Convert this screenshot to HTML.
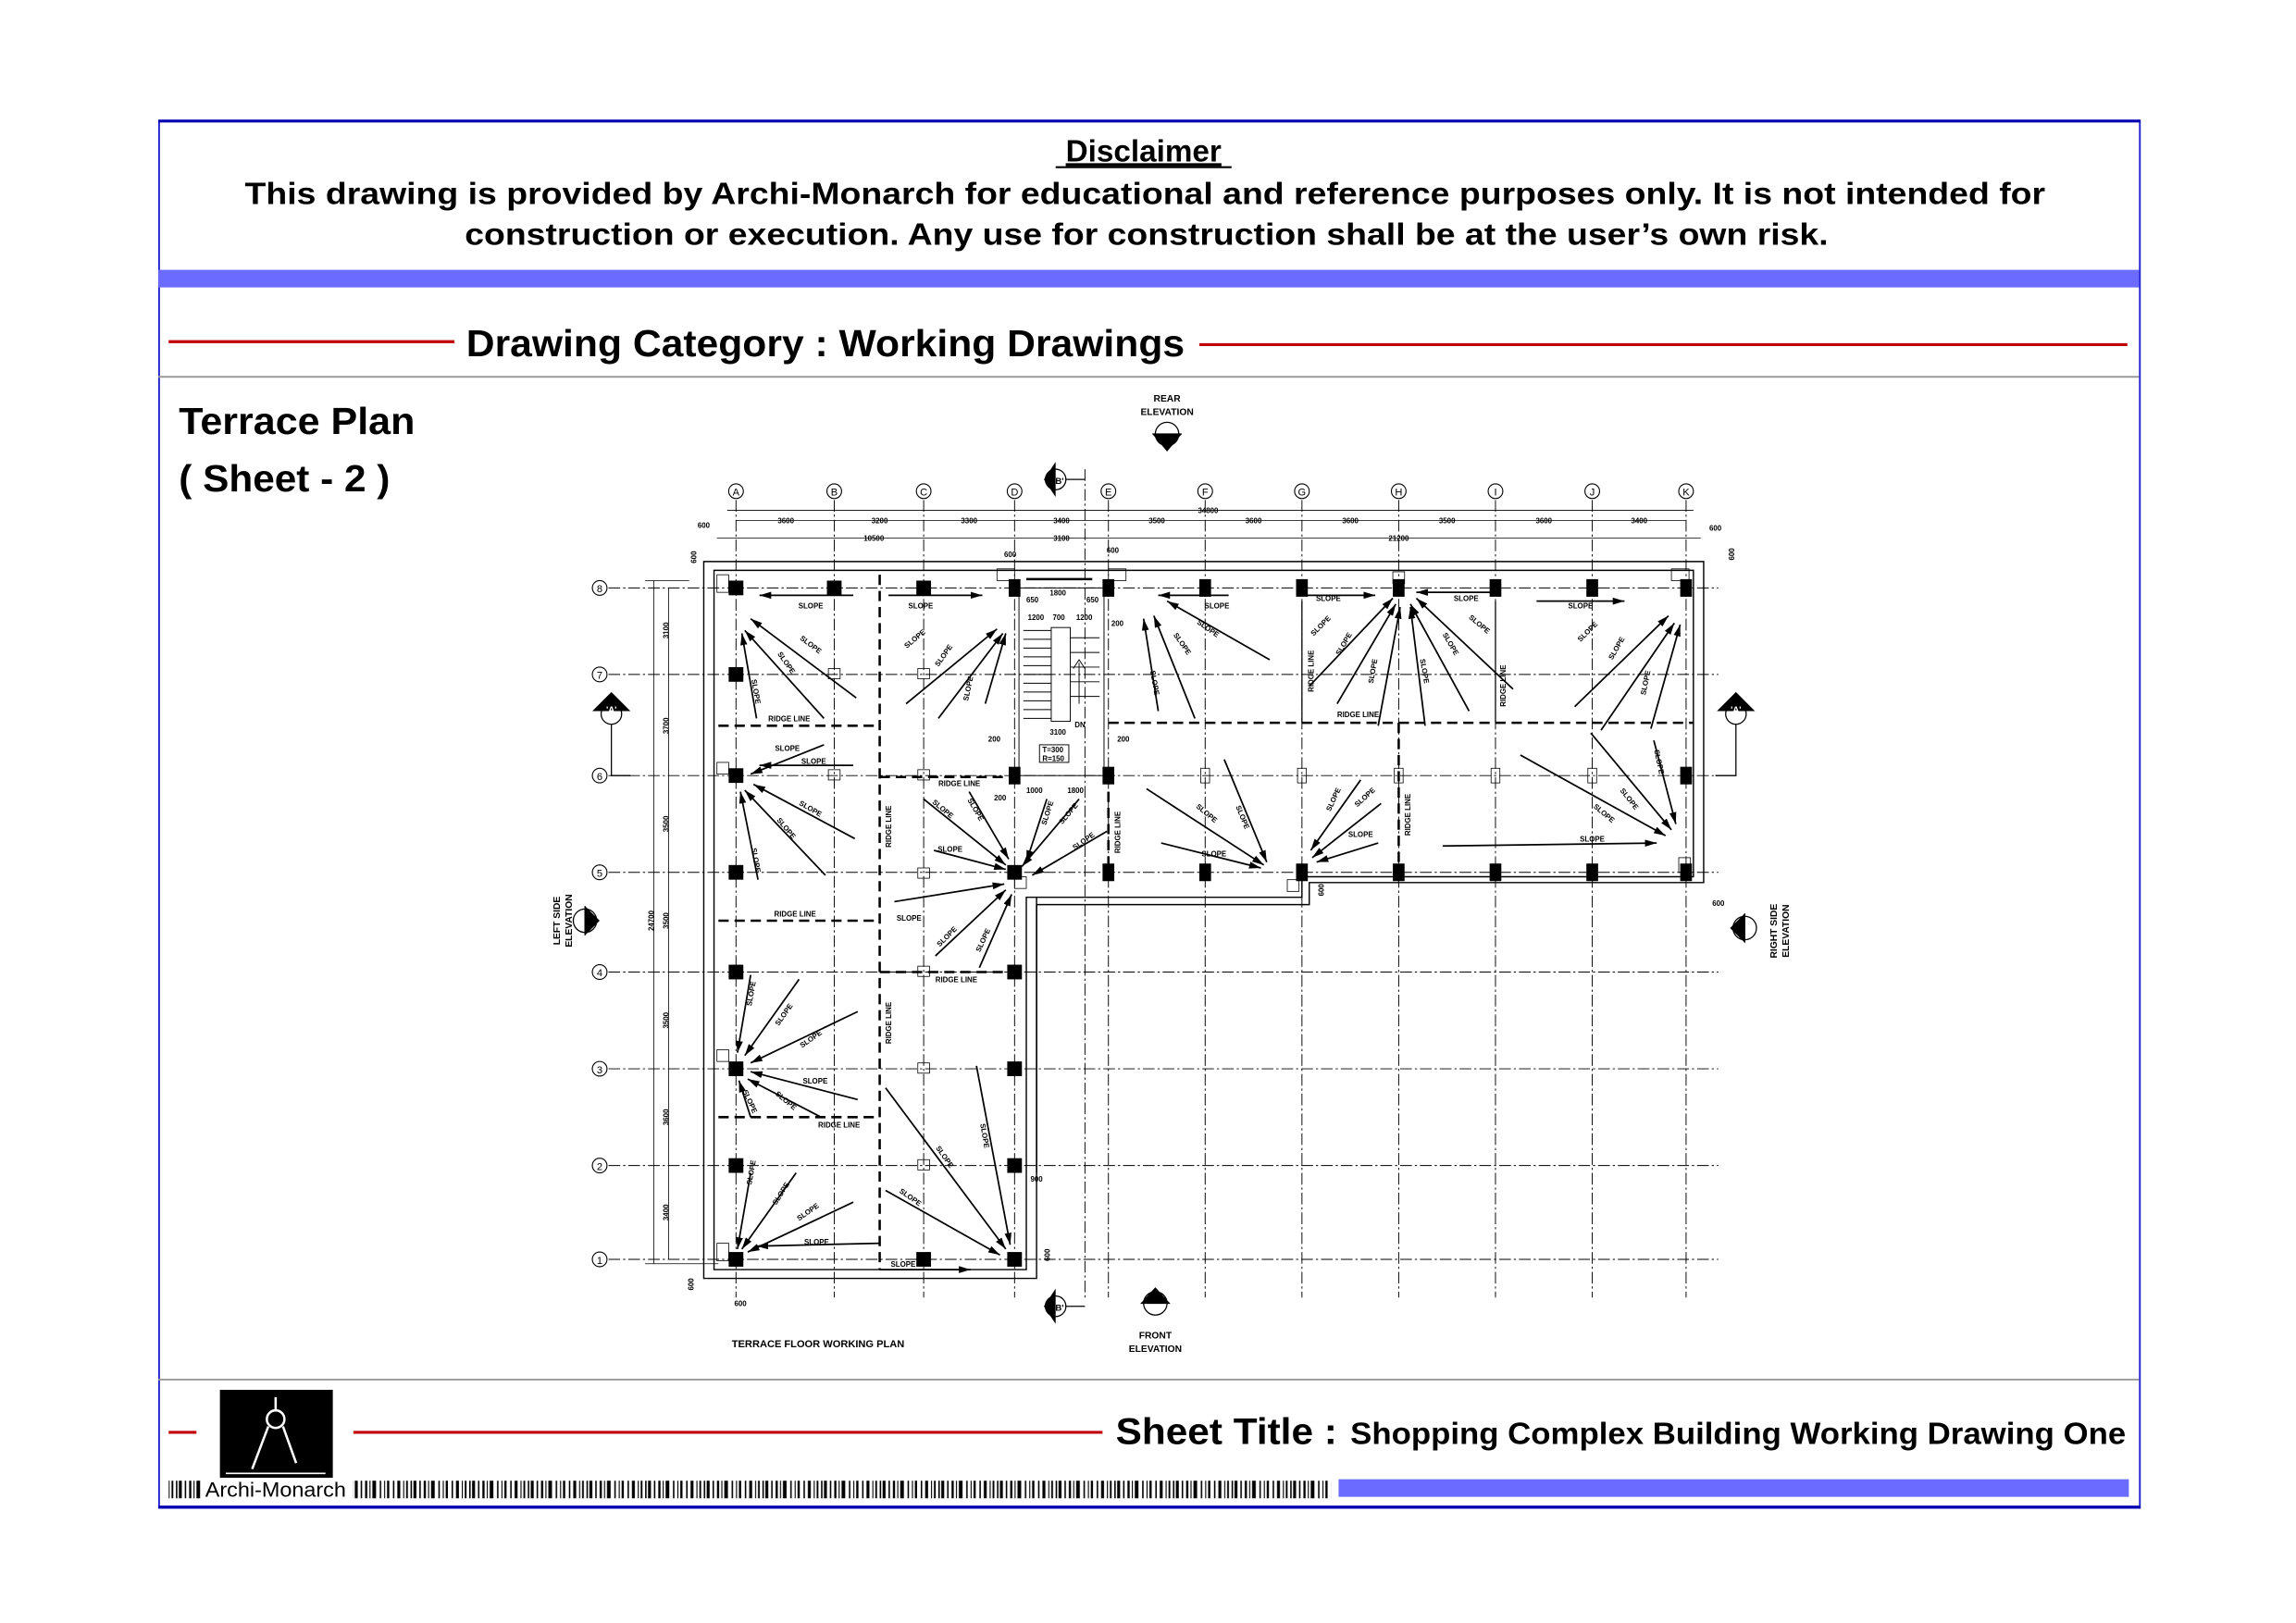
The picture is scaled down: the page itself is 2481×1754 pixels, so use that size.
<!DOCTYPE html>
<html><head><meta charset="utf-8"><style>
html,body{margin:0;padding:0;background:#fff}
svg{display:block}
</style></head><body>
<svg width="2481" height="1754" viewBox="0 0 1566 1107" xmlns="http://www.w3.org/2000/svg" font-family="Liberation Sans, Arial, sans-serif">
<defs>
<marker id="ah" viewBox="0 0 10 6" refX="10" refY="3" markerWidth="8" markerHeight="5" markerUnits="userSpaceOnUse" orient="auto"><path d="M0,0 L10,3 L0,6 Z" fill="#000"/></marker>
<pattern id="bc" width="40" height="12" patternUnits="userSpaceOnUse">
<rect x="0" width="1" height="12"/><rect x="2" width="2" height="12"/><rect x="6" width="1" height="12"/><rect x="9" width="1.5" height="12"/><rect x="12" width="0.7" height="12"/><rect x="14" width="2.5" height="12"/><rect x="19" width="1" height="12"/><rect x="22" width="0.7" height="12"/><rect x="24" width="1.5" height="12"/><rect x="28" width="1" height="12"/><rect x="31" width="2" height="12"/><rect x="35" width="0.7" height="12"/><rect x="37" width="1.2" height="12"/>
</pattern>
</defs>
<rect width="1566" height="1107" fill="#fff"/>
<!-- frame -->
<rect x="108.5" y="82.5" width="1351" height="946" fill="none" stroke="#2020d0" stroke-width="1.2"/>
<line x1="108" y1="82.5" x2="1460" y2="82.5" stroke="#0000b0" stroke-width="2"/>
<line x1="108" y1="1028" x2="1460" y2="1028" stroke="#0000b0" stroke-width="2"/>
<text x="780" y="110" font-size="21" font-weight="bold" text-anchor="middle" text-decoration="underline">Disclaimer</text>
<line x1="720" y1="114" x2="840" y2="114" stroke="#000" stroke-width="1.3"/>
<text x="781" y="139" font-size="21" font-weight="bold" text-anchor="middle" textLength="1228" lengthAdjust="spacingAndGlyphs">This drawing is provided by Archi-Monarch for educational and reference purposes only. It is not intended for</text>
<text x="782" y="167" font-size="21" font-weight="bold" text-anchor="middle" textLength="930" lengthAdjust="spacingAndGlyphs">construction or execution. Any use for construction shall be at the user’s own risk.</text>
<rect x="108" y="184" width="1351" height="12" fill="#6b6bff"/>
<line x1="115" y1="233" x2="310" y2="233" stroke="#c00000" stroke-width="2"/>
<line x1="818" y1="235" x2="1451" y2="235" stroke="#c00000" stroke-width="2"/>
<text x="318" y="243" font-size="26" font-weight="bold" textLength="490" lengthAdjust="spacingAndGlyphs">Drawing Category : Working Drawings</text>
<line x1="108" y1="257" x2="1459" y2="257" stroke="#999" stroke-width="1.2"/>
<text x="122" y="296" font-size="26" font-weight="bold" textLength="161" lengthAdjust="spacingAndGlyphs">Terrace Plan</text>
<text x="122" y="335" font-size="26" font-weight="bold" textLength="144" lengthAdjust="spacingAndGlyphs">( Sheet - 2 )</text>
<line x1="108" y1="941" x2="1459" y2="941" stroke="#999" stroke-width="1.2"/>
<!-- title block -->
<line x1="115" y1="977" x2="134" y2="977" stroke="#c00000" stroke-width="2"/>
<line x1="241" y1="977" x2="752" y2="977" stroke="#c00000" stroke-width="2"/>
<rect x="150" y="948" width="77" height="60" fill="#000"/>
<g stroke="#fff" fill="none" stroke-width="1.6">
<line x1="188" y1="953" x2="188" y2="962"/><circle cx="188" cy="968" r="6"/>
<line x1="183" y1="973" x2="172" y2="1002"/><line x1="193" y1="973" x2="202" y2="998"/>
<line x1="154" y1="1005" x2="222" y2="1005" stroke-width="1"/>
</g>
<text x="761" y="985" font-size="25" font-weight="bold" textLength="151" lengthAdjust="spacingAndGlyphs">Sheet Title :</text>
<text x="921" y="985" font-size="21" font-weight="bold" textLength="529" lengthAdjust="spacingAndGlyphs">Shopping Complex Building Working Drawing One</text>
<rect x="115" y="1010" width="22" height="12" fill="url(#bc)"/>
<text x="140" y="1021" font-size="14" textLength="96" lengthAdjust="spacingAndGlyphs">Archi-Monarch</text>
<rect x="241" y="1010" width="667" height="12" fill="url(#bc)"/>
<rect x="913" y="1009" width="539" height="12" fill="#6b6bff"/>

<!-- ===== PLAN ===== -->
<g stroke="#000" stroke-width="0.6" stroke-dasharray="8 2 1.5 2" fill="none">
<line x1="502" y1="341" x2="502" y2="885"/><line x1="569" y1="341" x2="569" y2="885"/><line x1="630" y1="341" x2="630" y2="885"/><line x1="692" y1="341" x2="692" y2="885"/>
<line x1="756" y1="341" x2="756" y2="885"/><line x1="822" y1="341" x2="822" y2="885"/><line x1="888" y1="341" x2="888" y2="885"/><line x1="954" y1="341" x2="954" y2="885"/>
<line x1="1020" y1="341" x2="1020" y2="885"/><line x1="1086" y1="341" x2="1086" y2="885"/><line x1="1150" y1="341" x2="1150" y2="885"/>
<line x1="415" y1="401" x2="1172" y2="401"/><line x1="415" y1="460" x2="1172" y2="460"/><line x1="415" y1="529" x2="1172" y2="529"/><line x1="415" y1="595" x2="1172" y2="595"/>
<line x1="415" y1="663" x2="1172" y2="663"/><line x1="415" y1="729" x2="1172" y2="729"/><line x1="415" y1="795" x2="1172" y2="795"/><line x1="415" y1="859" x2="1172" y2="859"/>
<line x1="740" y1="320" x2="740" y2="885"/>
</g>
<!-- bubbles -->
<g font-size="7" text-anchor="middle" fill="none" stroke="#000" stroke-width="0.7">
<circle cx="502" cy="335" r="5"/><circle cx="569" cy="335" r="5"/><circle cx="630" cy="335" r="5"/><circle cx="692" cy="335" r="5"/><circle cx="756" cy="335" r="5"/><circle cx="822" cy="335" r="5"/><circle cx="888" cy="335" r="5"/><circle cx="954" cy="335" r="5"/><circle cx="1020" cy="335" r="5"/><circle cx="1086" cy="335" r="5"/><circle cx="1150" cy="335" r="5"/>
<circle cx="409" cy="401" r="5"/><circle cx="409" cy="460" r="5"/><circle cx="409" cy="529" r="5"/><circle cx="409" cy="595" r="5"/><circle cx="409" cy="663" r="5"/><circle cx="409" cy="729" r="5"/><circle cx="409" cy="795" r="5"/><circle cx="409" cy="859" r="5"/>
</g>
<g font-size="7" text-anchor="middle" fill="#000">
<text x="502" y="338">A</text><text x="569" y="338">B</text><text x="630" y="338">C</text><text x="692" y="338">D</text><text x="756" y="338">E</text><text x="822" y="338">F</text><text x="888" y="338">G</text><text x="954" y="338">H</text><text x="1020" y="338">I</text><text x="1086" y="338">J</text><text x="1150" y="338">K</text>
<text x="409" y="404">8</text><text x="409" y="463">7</text><text x="409" y="532">6</text><text x="409" y="598">5</text><text x="409" y="666">4</text><text x="409" y="732">3</text><text x="409" y="798">2</text><text x="409" y="862">1</text>
</g>
<!-- dimensions -->
<g stroke="#000" stroke-width="0.5" fill="none">
<line x1="496" y1="348" x2="1155" y2="348"/><line x1="502" y1="355" x2="1150" y2="355"/><line x1="489" y1="367" x2="1160" y2="367"/>
<line x1="446" y1="396" x2="446" y2="862"/><line x1="456" y1="401" x2="456" y2="859"/>
<line x1="440" y1="396" x2="470" y2="396"/><line x1="440" y1="862" x2="490" y2="862"/>
</g>
<g font-size="5" font-weight="bold" text-anchor="middle" fill="#000">
<text x="824" y="350">34800</text>
<text x="536" y="357">3600</text><text x="600" y="357">3200</text><text x="661" y="357">3300</text><text x="724" y="357">3400</text><text x="789" y="357">3500</text><text x="855" y="357">3600</text><text x="921" y="357">3600</text><text x="987" y="357">3500</text><text x="1053" y="357">3600</text><text x="1118" y="357">3400</text>
<text x="596" y="369">10500</text><text x="724" y="369">3100</text><text x="954" y="369">21200</text>
<text x="480" y="360">600</text><text x="1170" y="362">600</text><text x="689" y="380">600</text><text x="759" y="377">600</text>
<g transform="rotate(-90)"><text x="-430" y="456">3100</text><text x="-495" y="456">3700</text><text x="-562" y="456">3500</text><text x="-628" y="446">24700</text><text x="-628" y="456">3500</text><text x="-696" y="456">3500</text><text x="-762" y="456">3600</text><text x="-827" y="456">3400</text>
<text x="-380" y="475">600</text><text x="-378" y="1183">600</text><text x="-876" y="473">600</text><text x="-856" y="716">600</text><text x="-607" y="903">600</text></g>
<text x="505" y="891">600</text><text x="1172" y="618">600</text><text x="707" y="806">900</text>
</g>
<!-- building outline -->
<g stroke="#000" stroke-width="0.9" fill="none">
<path d="M480,383 H1162 V602 H893 V617 H707 V872 H480 Z"/>
<path d="M487,389 H1155 V598 H888 V612 H700 V866 H487 Z"/>
<line x1="707" y1="612" x2="707" y2="800"/>
</g>
<!-- stair -->
<g stroke="#000" stroke-width="0.6" fill="none">
<rect x="695" y="401" width="58" height="128"/>
<rect x="717" y="428" width="13" height="64"/>
<line x1="698" y1="430" x2="717" y2="430"/><line x1="698" y1="436" x2="717" y2="436"/><line x1="698" y1="442" x2="717" y2="442"/><line x1="698" y1="448" x2="717" y2="448"/><line x1="698" y1="454" x2="717" y2="454"/><line x1="698" y1="460" x2="717" y2="460"/><line x1="698" y1="466" x2="717" y2="466"/><line x1="698" y1="472" x2="717" y2="472"/><line x1="698" y1="478" x2="717" y2="478"/><line x1="698" y1="484" x2="717" y2="484"/><line x1="698" y1="490" x2="717" y2="490"/>
<line x1="730" y1="435" x2="750" y2="435"/><line x1="730" y1="445" x2="750" y2="445"/><line x1="730" y1="455" x2="750" y2="455"/><line x1="730" y1="465" x2="750" y2="465"/><line x1="730" y1="475" x2="750" y2="475"/>
<line x1="736" y1="480" x2="736" y2="452"/><path d="M732,456 L736,450 L740,456"/>
<rect x="709" y="508" width="20" height="12"/>
<line x1="700" y1="395" x2="745" y2="395" stroke-width="1.6"/>
</g>
<g font-size="5" font-weight="bold" fill="#000">
<text x="716" y="406">1800</text><text x="700" y="411">650</text><text x="741" y="411">650</text><text x="701" y="423">1200</text><text x="718" y="423">700</text><text x="734" y="423">1200</text>
<text x="733" y="496">DN</text><text x="716" y="501">3100</text><text x="711" y="513">T=300</text><text x="711" y="519">R=150</text><text x="674" y="506">200</text><text x="762" y="506">200</text><text x="758" y="427">200</text><text x="678" y="546">200</text><text x="700" y="541">1000</text><text x="728" y="541">1800</text>
</g>
<!-- ridge lines -->
<g stroke="#000" stroke-width="1.6" stroke-dasharray="7 4" fill="none">
<line x1="600" y1="392" x2="600" y2="866"/>
<line x1="490" y1="495" x2="600" y2="495"/>
<line x1="600" y1="530" x2="692" y2="530"/>
<line x1="490" y1="628" x2="600" y2="628"/>
<line x1="600" y1="663" x2="692" y2="663"/>
<line x1="490" y1="762" x2="600" y2="762"/>
<line x1="756" y1="493" x2="1155" y2="493"/>
<line x1="756" y1="540" x2="756" y2="598"/>
<line x1="954" y1="493" x2="954" y2="598"/>
</g>
<g stroke="#000" stroke-width="0.8" fill="none"><line x1="888" y1="410" x2="888" y2="493"/><line x1="1020" y1="410" x2="1020" y2="493"/></g>
<g font-size="5" font-weight="bold" fill="#000">
<text x="524" y="492">RIDGE LINE</text><text x="528" y="625">RIDGE LINE</text><text x="558" y="769">RIDGE LINE</text><text x="640" y="536">RIDGE LINE</text><text x="638" y="670">RIDGE LINE</text><text x="912" y="489">RIDGE LINE</text>
<g transform="rotate(-90)"><text x="-578" y="608">RIDGE LINE</text><text x="-712" y="608">RIDGE LINE</text><text x="-582" y="764">RIDGE LINE</text><text x="-570" y="962">RIDGE LINE</text><text x="-472" y="896">RIDGE LINE</text><text x="-482" y="1027">RIDGE LINE</text></g>
</g>
<!-- columns -->
<g fill="#000">
<rect x="497" y="396" width="10" height="10"/><rect x="564" y="396" width="10" height="10"/><rect x="625" y="396" width="10" height="10"/><rect x="688" y="395" width="8" height="12"/><rect x="752" y="395" width="8" height="12"/><rect x="818" y="395" width="8" height="12"/><rect x="884" y="395" width="8" height="12"/><rect x="950" y="395" width="8" height="12"/><rect x="1016" y="395" width="8" height="12"/><rect x="1082" y="395" width="8" height="12"/><rect x="1146" y="395" width="8" height="12"/>
<rect x="497" y="455" width="10" height="10"/><rect x="497" y="524" width="10" height="10"/><rect x="688" y="523" width="8" height="12"/><rect x="752" y="523" width="8" height="12"/><rect x="1146" y="523" width="8" height="12"/>
<rect x="497" y="590" width="10" height="10"/><rect x="687" y="590" width="10" height="10"/><rect x="752" y="589" width="8" height="12"/><rect x="818" y="589" width="8" height="12"/><rect x="884" y="589" width="8" height="12"/><rect x="950" y="589" width="8" height="12"/><rect x="1016" y="589" width="8" height="12"/><rect x="1082" y="589" width="8" height="12"/><rect x="1146" y="589" width="8" height="12"/>
<rect x="497" y="658" width="10" height="10"/><rect x="687" y="658" width="10" height="10"/><rect x="497" y="724" width="10" height="10"/><rect x="687" y="724" width="10" height="10"/><rect x="497" y="790" width="10" height="10"/><rect x="687" y="790" width="10" height="10"/><rect x="497" y="854" width="10" height="10"/><rect x="625" y="854" width="10" height="10"/><rect x="687" y="854" width="10" height="10"/>
</g>
<g fill="none" stroke="#000" stroke-width="0.5">
<rect x="565" y="456" width="8" height="7"/><rect x="626" y="456" width="8" height="7"/><rect x="565" y="525" width="8" height="7"/><rect x="626" y="525" width="8" height="7"/><rect x="626" y="592" width="8" height="7"/><rect x="626" y="659" width="8" height="7"/><rect x="626" y="725" width="8" height="7"/><rect x="626" y="791" width="8" height="7"/>
<rect x="819" y="524" width="6" height="10"/><rect x="885" y="524" width="6" height="10"/><rect x="951" y="524" width="6" height="10"/><rect x="1017" y="524" width="6" height="10"/><rect x="1083" y="524" width="6" height="10"/>
<rect x="489" y="520" width="8" height="8"/><rect x="489" y="716" width="8" height="8"/><rect x="489" y="848" width="8" height="12"/><rect x="489" y="392" width="8" height="12"/><rect x="1145" y="585" width="8" height="10"/><rect x="878" y="600" width="8" height="8"/><rect x="692" y="598" width="8" height="8"/><rect x="1140" y="388" width="12" height="8"/><rect x="680" y="388" width="12" height="8"/><rect x="756" y="388" width="12" height="8"/><rect x="950" y="390" width="8" height="8"/>
</g>
<!-- slope arrows -->
<g stroke="#000" stroke-width="1.1" fill="none" marker-end="url(#ah)">
<line x1="582" y1="406" x2="518" y2="406"/><line x1="584" y1="476" x2="512" y2="422"/><line x1="562" y1="490" x2="508" y2="430"/><line x1="516" y1="490" x2="506" y2="432"/>
<line x1="562" y1="508" x2="512" y2="528"/><line x1="582" y1="522" x2="518" y2="522"/>
<line x1="583" y1="572" x2="514" y2="535"/><line x1="563" y1="597" x2="508" y2="539"/><line x1="517" y1="600" x2="505" y2="540"/>
<line x1="606" y1="406" x2="670" y2="406"/><line x1="618" y1="480" x2="680" y2="429"/><line x1="640" y1="490" x2="684" y2="432"/><line x1="672" y1="480" x2="686" y2="432"/>
<line x1="630" y1="545" x2="686" y2="590"/><line x1="661" y1="540" x2="688" y2="586"/><line x1="637" y1="580" x2="686" y2="593"/><line x1="714" y1="545" x2="700" y2="588"/><line x1="736" y1="545" x2="697" y2="591"/><line x1="755" y1="567" x2="704" y2="597"/>
<line x1="610" y1="615" x2="685" y2="603"/><line x1="638" y1="652" x2="686" y2="607"/><line x1="668" y1="660" x2="690" y2="610"/>
<line x1="512" y1="665" x2="503" y2="718"/><line x1="545" y1="668" x2="508" y2="720"/><line x1="585" y1="690" x2="512" y2="725"/><line x1="585" y1="750" x2="512" y2="731"/><line x1="560" y1="762" x2="510" y2="736"/><line x1="512" y1="762" x2="504" y2="737"/>
<line x1="512" y1="800" x2="503" y2="852"/><line x1="543" y1="800" x2="506" y2="852"/><line x1="582" y1="820" x2="510" y2="854"/><line x1="600" y1="848" x2="516" y2="850"/>
<line x1="604" y1="742" x2="686" y2="852"/><line x1="666" y1="727" x2="689" y2="849"/><line x1="604" y1="812" x2="682" y2="856"/><line x1="600" y1="866" x2="662" y2="866"/>
<line x1="838" y1="406" x2="790" y2="406"/><line x1="866" y1="450" x2="796" y2="410"/><line x1="815" y1="490" x2="787" y2="420"/><line x1="790" y1="485" x2="780" y2="422"/>
<line x1="890" y1="406" x2="938" y2="406"/><line x1="893" y1="468" x2="950" y2="408"/><line x1="912" y1="480" x2="952" y2="412"/><line x1="940" y1="495" x2="955" y2="414"/>
<line x1="972" y1="495" x2="962" y2="414"/><line x1="1002" y1="485" x2="962" y2="412"/><line x1="1032" y1="470" x2="966" y2="408"/><line x1="1018" y1="404" x2="966" y2="404"/>
<line x1="1048" y1="410" x2="1108" y2="410"/><line x1="1074" y1="482" x2="1138" y2="420"/><line x1="1092" y1="498" x2="1142" y2="425"/><line x1="1126" y1="497" x2="1146" y2="426"/>
<line x1="782" y1="538" x2="862" y2="590"/><line x1="835" y1="518" x2="864" y2="588"/><line x1="792" y1="575" x2="860" y2="592"/>
<line x1="928" y1="532" x2="894" y2="580"/><line x1="942" y1="548" x2="895" y2="585"/><line x1="940" y1="575" x2="898" y2="588"/>
<line x1="984" y1="577" x2="1130" y2="575"/><line x1="1037" y1="515" x2="1136" y2="570"/><line x1="1085" y1="500" x2="1140" y2="566"/><line x1="1128" y1="505" x2="1143" y2="562"/>
</g>
<!-- slope labels -->
<g font-size="5" font-weight="bold" fill="#000" text-anchor="middle">
<text x="553" y="415">SLOPE</text><text x="628" y="415">SLOPE</text><text x="555" y="521">SLOPE</text><text x="537" y="512">SLOPE</text><text x="648" y="581">SLOPE</text><text x="620" y="628">SLOPE</text><text x="830" y="415">SLOPE</text><text x="906" y="410">SLOPE</text><text x="1000" y="410">SLOPE</text><text x="1078" y="415">SLOPE</text><text x="828" y="584">SLOPE</text><text x="928" y="571">SLOPE</text><text x="1086" y="574">SLOPE</text><text x="556" y="739">SLOPE</text><text x="557" y="849">SLOPE</text><text x="616" y="864">SLOPE</text>
<text transform="translate(552,441) rotate(37)">SLOPE</text><text transform="translate(535,453) rotate(55)">SLOPE</text><text transform="translate(514,472) rotate(80)">SLOPE</text>
<text transform="translate(552,553) rotate(30)">SLOPE</text><text transform="translate(535,566) rotate(50)">SLOPE</text><text transform="translate(514,587) rotate(80)">SLOPE</text>
<text transform="translate(625,437) rotate(-40)">SLOPE</text><text transform="translate(645,448) rotate(-55)">SLOPE</text><text transform="translate(662,470) rotate(-78)">SLOPE</text>
<text transform="translate(642,553) rotate(40)">SLOPE</text><text transform="translate(664,553) rotate(60)">SLOPE</text><text transform="translate(716,555) rotate(-72)">SLOPE</text><text transform="translate(730,556) rotate(-50)">SLOPE</text><text transform="translate(740,575) rotate(-35)">SLOPE</text>
<text transform="translate(647,640) rotate(-45)">SLOPE</text><text transform="translate(672,642) rotate(-65)">SLOPE</text>
<text transform="translate(514,678) rotate(-80)">SLOPE</text><text transform="translate(536,693) rotate(-55)">SLOPE</text><text transform="translate(554,710) rotate(-35)">SLOPE</text><text transform="translate(535,752) rotate(40)">SLOPE</text><text transform="translate(510,752) rotate(65)">SLOPE</text>
<text transform="translate(514,800) rotate(-80)">SLOPE</text><text transform="translate(534,815) rotate(-58)">SLOPE</text><text transform="translate(552,828) rotate(-35)">SLOPE</text>
<text transform="translate(620,818) rotate(35)">SLOPE</text><text transform="translate(643,790) rotate(55)">SLOPE</text><text transform="translate(670,775) rotate(80)">SLOPE</text>
<text transform="translate(823,430) rotate(35)">SLOPE</text><text transform="translate(805,440) rotate(55)">SLOPE</text><text transform="translate(786,466) rotate(80)">SLOPE</text>
<text transform="translate(902,428) rotate(-45)">SLOPE</text><text transform="translate(918,440) rotate(-60)">SLOPE</text><text transform="translate(938,458) rotate(-80)">SLOPE</text><text transform="translate(970,458) rotate(80)">SLOPE</text><text transform="translate(988,440) rotate(60)">SLOPE</text><text transform="translate(1008,427) rotate(40)">SLOPE</text>
<text transform="translate(1084,432) rotate(-45)">SLOPE</text><text transform="translate(1104,443) rotate(-60)">SLOPE</text><text transform="translate(1124,466) rotate(-78)">SLOPE</text>
<text transform="translate(822,556) rotate(40)">SLOPE</text><text transform="translate(846,558) rotate(68)">SLOPE</text><text transform="translate(911,546) rotate(-65)">SLOPE</text><text transform="translate(932,545) rotate(-42)">SLOPE</text>
<text transform="translate(1093,556) rotate(40)">SLOPE</text><text transform="translate(1110,546) rotate(52)">SLOPE</text><text transform="translate(1130,520) rotate(78)">SLOPE</text>
</g>
<!-- elevation / section markers -->
<g stroke="#000" stroke-width="0.8" fill="none">
<circle cx="796" cy="296" r="8"/><line x1="786" y1="296" x2="806" y2="296"/>
<circle cx="788" cy="889" r="8"/><line x1="778" y1="889" x2="798" y2="889"/>
<circle cx="399" cy="628" r="8"/><line x1="399" y1="618" x2="399" y2="638"/>
<circle cx="1190" cy="633" r="8"/><line x1="1190" y1="623" x2="1190" y2="643"/>
<circle cx="417" cy="487" r="7"/><circle cx="1184" cy="487" r="7"/><circle cx="720" cy="327" r="7"/><circle cx="720" cy="891" r="7"/>
<path d="M417,494 V529 H430"/><path d="M1184,494 V529 H1170"/><path d="M727,327 H740"/><path d="M727,891 H740"/>
</g>
<g fill="#000">
<path d="M786,296 L806,296 L796,308 Z"/><path d="M778,889 L798,889 L788,878 Z"/><path d="M399,618 L399,638 L409,628 Z"/><path d="M1190,623 L1190,643 L1180,633 Z"/>
<path d="M404,485 L430,485 L417,472 Z"/><path d="M1171,485 L1197,485 L1184,472 Z"/><path d="M720,315 L712,327 L720,339 Z"/><path d="M720,879 L712,891 L720,903 Z"/>
</g>
<g font-size="6.5" font-weight="bold" text-anchor="middle" fill="#000">
<text x="796" y="274">REAR</text><text x="796" y="283">ELEVATION</text>
<text x="788" y="913">FRONT</text><text x="788" y="922">ELEVATION</text>
<text transform="translate(382,628) rotate(-90)">LEFT SIDE</text><text transform="translate(390,628) rotate(-90)">ELEVATION</text>
<text transform="translate(1212,635) rotate(-90)">RIGHT SIDE</text><text transform="translate(1220,635) rotate(-90)">ELEVATION</text>
<text x="417" y="486" font-size="6" fill="#fff">'A'</text><text x="1184" y="486" font-size="6" fill="#fff">'A'</text>
<text x="722" y="330" font-size="6">'B'</text><text x="722" y="894" font-size="6">'B'</text>
<text x="558" y="919" font-size="7">TERRACE FLOOR WORKING PLAN</text>
</g>
</svg>
</body></html>
